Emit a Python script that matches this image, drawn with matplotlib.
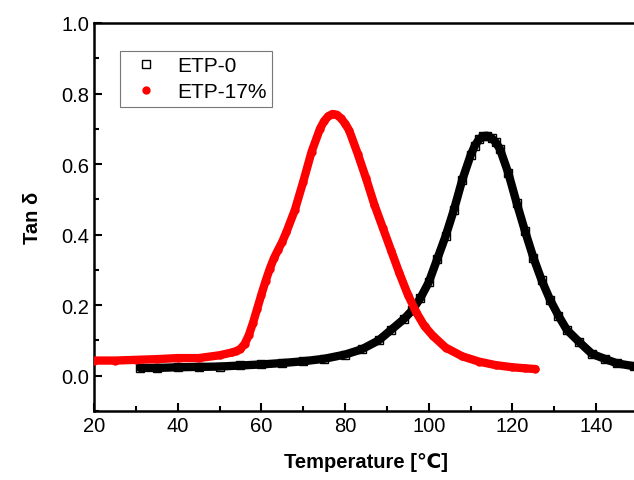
import matplotlib
matplotlib.use("Agg")
import matplotlib.pyplot as plt
from matplotlib.ticker import MultipleLocator

plt.rcParams["font.family"] = ["Liberation Sans", "DejaVu Sans"]

# ETP-0 (neat resin)
etp0_T = [31, 35, 40, 45, 50, 55, 60, 65, 70, 75, 80, 84, 88, 91, 94, 96, 98,
          100, 102, 104, 106, 108, 110, 111, 112, 113, 114, 115, 116, 117, 119,
          121, 123, 125, 127, 129, 131, 133, 136, 139, 142, 145, 149, 151]
etp0_tan = [0.022, 0.022, 0.024, 0.025, 0.026, 0.029, 0.032, 0.036, 0.041, 0.048,
            0.060, 0.075, 0.100, 0.130, 0.160, 0.185, 0.220, 0.265, 0.330, 0.395,
            0.470, 0.555, 0.625, 0.652, 0.670, 0.679, 0.680, 0.674, 0.662, 0.643,
            0.575, 0.490, 0.410, 0.335, 0.270, 0.215, 0.170, 0.130, 0.095, 0.062,
            0.048, 0.035, 0.027, 0.025]

# ETP-17%
etp17_T = [20, 25, 30, 35, 40, 45, 50, 53, 54, 55, 56, 57, 58, 59, 60, 61, 62,
           63, 64, 65, 66, 68, 70, 72, 74, 75, 76, 77, 78, 79, 80, 81, 83, 85,
           87, 89, 91, 93, 95, 97, 99, 101, 104, 108, 112, 116, 120, 123, 125.5]
etp17_tan = [0.043, 0.043, 0.045, 0.047, 0.050, 0.050, 0.058, 0.066, 0.070, 0.076,
             0.090, 0.115, 0.150, 0.190, 0.230, 0.268, 0.303, 0.333, 0.357, 0.380,
             0.408, 0.470, 0.550, 0.635, 0.700, 0.722, 0.736, 0.742, 0.740, 0.730,
             0.715, 0.695, 0.630, 0.560, 0.485, 0.420, 0.355, 0.290, 0.230, 0.180,
             0.140, 0.113, 0.080, 0.055, 0.040, 0.030, 0.024, 0.021, 0.019]

fig = plt.figure(figsize=(6.34, 4.81), dpi=100)
ax = fig.add_axes([94 / 634, 1 - 412 / 481, (638 - 94) / 634, (412 - 24) / 481])

ax.plot(etp0_T, etp0_tan, "-", color="black", lw=6, solid_capstyle="round",
        solid_joinstyle="round", zorder=2)
ax.plot(etp0_T, etp0_tan, "s", color="black", mfc="none", ms=5.5, mew=1, label="ETP-0", zorder=2)
ax.plot(etp17_T, etp17_tan, "-", color="red", lw=6, solid_capstyle="round",
        solid_joinstyle="round", zorder=3)
ax.plot(etp17_T, etp17_tan, "o", color="red", ms=6, mew=0, label="ETP-17%", zorder=3)

ax.set_xlim(20, 150)
ax.set_ylim(-0.1, 1.0)
ax.xaxis.set_major_locator(MultipleLocator(20))
ax.xaxis.set_minor_locator(MultipleLocator(10))
ax.yaxis.set_major_locator(MultipleLocator(0.2))
ax.yaxis.set_minor_locator(MultipleLocator(0.1))
ax.yaxis.set_major_formatter(plt.FuncFormatter(lambda v, p: f"{v:.1f}"))
ax.tick_params(which="both", direction="in", width=1.5, labelsize=14.5, top=False, right=False)
ax.tick_params(which="major", length=6)
ax.tick_params(which="minor", length=3.5)
for s in ax.spines.values():
    s.set_linewidth(1.8)

ax.set_xlabel("Temperature [℃]", fontsize=14.5, fontweight="bold", labelpad=12)
ax.set_ylabel("Tan δ", fontsize=14.5, fontweight="bold", labelpad=14)

leg = ax.legend(loc="upper left", bbox_to_anchor=(120 / 634, 1 - 52 / 481),
                bbox_transform=fig.transFigure, borderaxespad=0, fontsize=15,
                fancybox=False, edgecolor="#777777", framealpha=1,
                borderpad=0.25, labelspacing=0.35, handlelength=2.0, handletextpad=0.5)
leg.get_frame().set_linewidth(0.8)

fig.savefig("out.png", dpi=100)
